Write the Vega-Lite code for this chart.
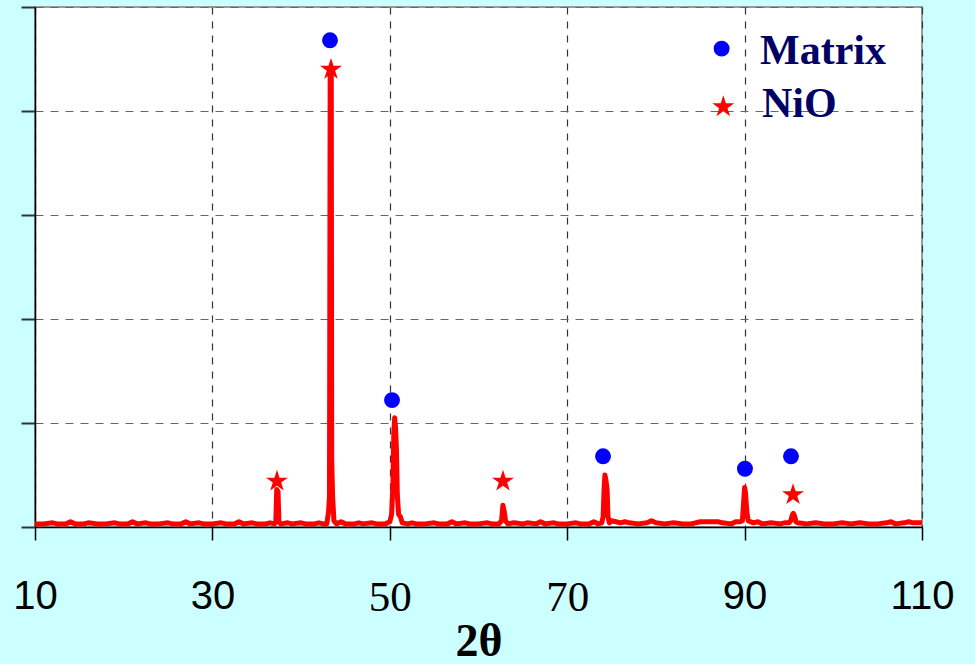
{
  "$schema": "https://vega.github.io/schema/vega-lite/v6.json",
  "width": 887,
  "height": 520,
  "autosize": "none",
  "padding": {"left": 35, "top": 7, "right": 53, "bottom": 137},
  "background": "#ccffff",
  "config": {
    "view": {"fill": "white", "stroke": "#999999", "strokeWidth": 2}
  },
  "datasets": {
    "xrd": [
      {"t":10,"I":0.03},{"t":11,"I":0.03},{"t":12,"I":0.04},{"t":12.5,"I":0.03},{"t":13.5,"I":0.03},{"t":14,"I":0.05},{"t":14.5,"I":0.03},{"t":15.5,"I":0.03},{"t":16,"I":0.04},{"t":17,"I":0.03},{"t":18,"I":0.03},{"t":19,"I":0.04},{"t":19.5,"I":0.03},{"t":20.5,"I":0.03},{"t":21,"I":0.05},{"t":21.5,"I":0.03},{"t":22.5,"I":0.04},{"t":23,"I":0.03},{"t":24,"I":0.03},{"t":25,"I":0.04},{"t":25.5,"I":0.03},{"t":26.5,"I":0.03},{"t":27,"I":0.05},{"t":27.5,"I":0.03},{"t":28.5,"I":0.04},{"t":29,"I":0.03},{"t":30,"I":0.03},{"t":31,"I":0.04},{"t":31.5,"I":0.03},{"t":32.5,"I":0.03},{"t":33,"I":0.05},{"t":33.5,"I":0.03},{"t":34.5,"I":0.04},{"t":35,"I":0.03},{"t":36,"I":0.03},{"t":36.5,"I":0.04},{"t":37,"I":0.03},{"t":37.15,"I":0.05},{"t":37.25,"I":0.36},{"t":37.4,"I":0.34},{"t":37.5,"I":0.05},{"t":37.7,"I":0.03},{"t":38.5,"I":0.04},{"t":39,"I":0.03},{"t":40,"I":0.04},{"t":40.5,"I":0.03},{"t":41.5,"I":0.03},{"t":42,"I":0.04},{"t":42.5,"I":0.03},{"t":42.9,"I":0.03},{"t":43.1,"I":0.15},{"t":43.2,"I":0.3},{"t":43.28,"I":4.41},{"t":43.4,"I":4.35},{"t":43.45,"I":0.65},{"t":43.55,"I":0.3},{"t":43.7,"I":0.06},{"t":44,"I":0.03},{"t":44.5,"I":0.05},{"t":45,"I":0.03},{"t":46,"I":0.03},{"t":46.5,"I":0.04},{"t":47,"I":0.03},{"t":48,"I":0.04},{"t":48.5,"I":0.03},{"t":49.5,"I":0.03},{"t":50,"I":0.05},{"t":50.2,"I":0.12},{"t":50.35,"I":0.4},{"t":50.45,"I":0.9},{"t":50.55,"I":1.05},{"t":50.65,"I":0.95},{"t":50.75,"I":0.75},{"t":50.85,"I":0.3},{"t":51,"I":0.12},{"t":51.2,"I":0.1},{"t":51.4,"I":0.04},{"t":52,"I":0.03},{"t":52.5,"I":0.04},{"t":53,"I":0.03},{"t":54,"I":0.03},{"t":55,"I":0.04},{"t":55.5,"I":0.03},{"t":56.5,"I":0.03},{"t":57,"I":0.05},{"t":57.5,"I":0.03},{"t":58.5,"I":0.04},{"t":59,"I":0.03},{"t":60,"I":0.03},{"t":61,"I":0.04},{"t":61.5,"I":0.03},{"t":62.3,"I":0.03},{"t":62.6,"I":0.06},{"t":62.75,"I":0.21},{"t":62.9,"I":0.15},{"t":63.05,"I":0.06},{"t":63.3,"I":0.03},{"t":64,"I":0.04},{"t":65,"I":0.03},{"t":65.5,"I":0.04},{"t":66.5,"I":0.03},{"t":67,"I":0.05},{"t":67.5,"I":0.03},{"t":68.5,"I":0.04},{"t":69,"I":0.03},{"t":70,"I":0.03},{"t":71,"I":0.04},{"t":71.5,"I":0.03},{"t":72.5,"I":0.03},{"t":73,"I":0.05},{"t":73.5,"I":0.03},{"t":73.9,"I":0.04},{"t":74.05,"I":0.1},{"t":74.15,"I":0.35},{"t":74.25,"I":0.5},{"t":74.35,"I":0.46},{"t":74.5,"I":0.36},{"t":74.6,"I":0.1},{"t":74.75,"I":0.04},{"t":75,"I":0.06},{"t":75.5,"I":0.05},{"t":76,"I":0.04},{"t":76.5,"I":0.05},{"t":77,"I":0.04},{"t":78,"I":0.03},{"t":79,"I":0.04},{"t":79.5,"I":0.06},{"t":80,"I":0.04},{"t":81,"I":0.03},{"t":82,"I":0.04},{"t":83,"I":0.03},{"t":84,"I":0.03},{"t":85,"I":0.05},{"t":86,"I":0.05},{"t":87,"I":0.05},{"t":87.5,"I":0.04},{"t":88.5,"I":0.03},{"t":89,"I":0.05},{"t":89.5,"I":0.05},{"t":89.75,"I":0.06},{"t":89.9,"I":0.25},{"t":90,"I":0.38},{"t":90.1,"I":0.33},{"t":90.25,"I":0.15},{"t":90.4,"I":0.06},{"t":90.7,"I":0.05},{"t":91,"I":0.04},{"t":91.5,"I":0.05},{"t":92,"I":0.03},{"t":93,"I":0.04},{"t":94,"I":0.03},{"t":94.5,"I":0.04},{"t":95,"I":0.04},{"t":95.2,"I":0.06},{"t":95.4,"I":0.12},{"t":95.5,"I":0.13},{"t":95.65,"I":0.1},{"t":95.8,"I":0.05},{"t":96,"I":0.04},{"t":97,"I":0.03},{"t":98,"I":0.04},{"t":99,"I":0.03},{"t":100,"I":0.03},{"t":101,"I":0.04},{"t":102,"I":0.03},{"t":103,"I":0.04},{"t":104,"I":0.03},{"t":105,"I":0.03},{"t":106,"I":0.04},{"t":106.5,"I":0.05},{"t":107,"I":0.03},{"t":108,"I":0.04},{"t":108.5,"I":0.05},{"t":109,"I":0.04},{"t":110,"I":0.04}
    ],
    "markers": [
      {"t":43.26,"I":4.68,"phase":"Matrix"},
      {"t":50.25,"I":1.22,"phase":"Matrix"},
      {"t":74.04,"I":0.68,"phase":"Matrix"},
      {"t":90.04,"I":0.56,"phase":"Matrix"},
      {"t":95.23,"I":0.68,"phase":"Matrix"},
      {"t":43.37,"I":4.4,"phase":"NiO"},
      {"t":37.28,"I":0.44,"phase":"NiO"},
      {"t":62.76,"I":0.44,"phase":"NiO"},
      {"t":95.46,"I":0.31,"phase":"NiO"},
      {"t":87.41,"I":4.6,"phase":"Matrix"},
      {"t":87.6,"I":4.04,"phase":"NiO"}
    ],
    "legend": [
      {"t":91.74,"I":4.45,"label":"Matrix"},
      {"t":91.96,"I":3.94,"label":"NiO"}
    ]
  },
  "layer": [
    {
      "data": {"name": "xrd"},
      "mark": {"type": "line", "color": "#ff0000", "strokeWidth": 5, "strokeJoin": "round", "strokeCap": "butt", "clip": false},
      "encoding": {
        "x": {
          "field": "t", "type": "quantitative",
          "scale": {"domain": [10, 110], "nice": false, "zero": false},
          "axis": {
            "values": [10, 30, 50, 70, 90, 110],
            "title": "2θ",
            "titleFont": "Liberation Serif",
            "titleFontWeight": "bold",
            "titleFontSize": 46,
            "titleColor": "black",
            "titlePadding": 0,
            "labelFont": {"condition": {"test": "datum.value == 50 || datum.value == 70", "value": "Liberation Serif"}, "value": "Liberation Sans"},
            "labelFontSize": {"condition": {"test": "datum.value == 50 || datum.value == 70", "value": 43}, "value": 40},
            "labelColor": "black",
            "labelPadding": 36,
            "labelFlush": false,
            "labelOverlap": false,
            "tickSize": 13,
            "tickColor": "black",
            "tickWidth": 1.5,
            "domainColor": "black",
            "domainWidth": 1.5,
            "grid": true,
            "gridColor": "#333333",
            "gridDash": [7, 7],
            "gridWidth": 1.2
          }
        },
        "y": {
          "field": "I", "type": "quantitative",
          "scale": {"domain": [0, 5], "nice": false},
          "axis": {
            "values": [0, 1, 2, 3, 4, 5],
            "labels": false,
            "title": null,
            "tickSize": 14,
            "tickColor": "#333333",
            "tickWidth": 2,
            "domainColor": "black",
            "domainWidth": 1.5,
            "grid": true,
            "gridColor": "#666666",
            "gridDash": [8, 7],
            "gridWidth": 1.2
          }
        }
      }
    },
    {
      "data": {"name": "markers"},
      "mark": {"type": "point", "filled": true, "opacity": 1, "strokeWidth": 0},
      "encoding": {
        "x": {"field": "t", "type": "quantitative"},
        "y": {"field": "I", "type": "quantitative"},
        "shape": {"field": "phase", "type": "nominal", "legend": null,
          "scale": {"domain": ["Matrix", "NiO"], "range": ["circle", "M0,-1L0.225,-0.309L0.951,-0.309L0.363,0.118L0.588,0.809L0,0.382L-0.588,0.809L-0.363,0.118L-0.951,-0.309L-0.225,-0.309Z"]}},
        "color": {"field": "phase", "type": "nominal", "legend": null,
          "scale": {"domain": ["Matrix", "NiO"], "range": ["#0000ff", "#ff0000"]}},
        "size": {"field": "phase", "type": "nominal", "legend": null,
          "scale": {"domain": ["Matrix", "NiO"], "range": [254, 530]}}
      }
    },
    {
      "data": {"name": "legend"},
      "mark": {"type": "text", "align": "left", "baseline": "alphabetic", "font": "Liberation Serif", "fontWeight": "bold", "fontSize": 42, "color": "#000066"},
      "encoding": {
        "x": {"field": "t", "type": "quantitative"},
        "y": {"field": "I", "type": "quantitative"},
        "text": {"field": "label", "type": "nominal"}
      }
    }
  ]
}
